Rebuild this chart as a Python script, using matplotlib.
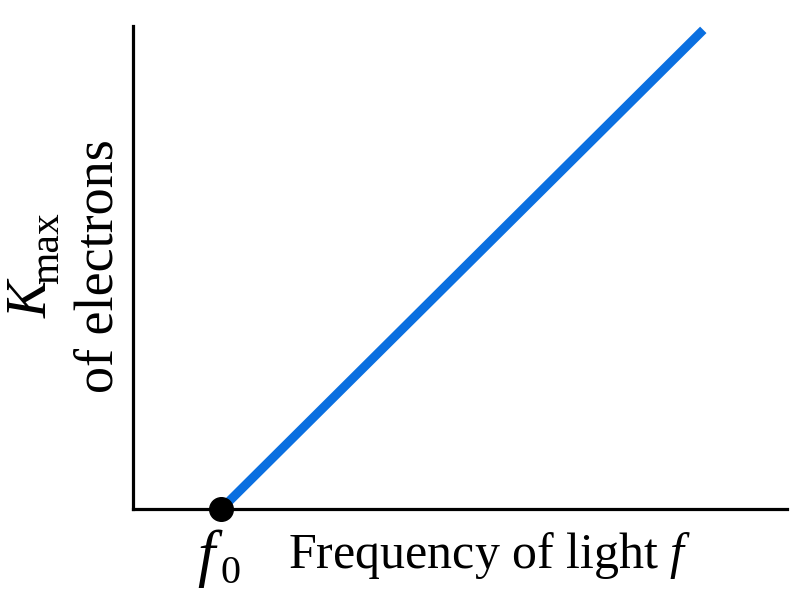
import matplotlib
matplotlib.use("Agg")
import matplotlib.pyplot as plt

plt.rcParams['font.family'] = ['Liberation Serif', 'DejaVu Serif']
plt.rcParams['mathtext.fontset'] = 'custom'
plt.rcParams['mathtext.rm'] = 'Liberation Serif'
plt.rcParams['mathtext.it'] = 'Liberation Serif:italic'

# data
f0 = 1.35
line_x = [1.35, 8.72]
line_y = [0.0, 9.92]
x_label = "Frequency of light $f$"
y_label_sym = "K"
y_label_sub = "max"
y_label_line2 = "of electrons"
f0_sym = "f"
f0_sub = "0"

W, H = 800, 600
fig = plt.figure(figsize=(8, 6), dpi=100)
ax = fig.add_axes([133/W, 91/H, (787-133)/W, (509-26)/H])
ax.set_xlim(0, 10)
ax.set_ylim(0, 10)
ax.plot(line_x, line_y, color='#0a6fe0', lw=6.5, solid_capstyle='butt', zorder=3)
ax.plot([f0], [0], 'o', color='black', ms=17, clip_on=False, zorder=4)

for s in ['top', 'right']:
    ax.spines[s].set_visible(False)
for s in ['left', 'bottom']:
    ax.spines[s].set_linewidth(2.3)
ax.set_xticks([])
ax.set_yticks([])

def P(x, y):
    return (x / W, 1 - y / H)

# x-axis labels
fig.text(*P(197, 574), f0_sym, fontsize=45, style='italic', ha='left', va='baseline')
fig.text(*P(221, 583), f0_sub, fontsize=29, ha='left', va='baseline')
fig.text(*P(288, 568), x_label, fontsize=36, ha='left', va='baseline')

# y-axis label (rotated)
kw = dict(rotation=90, rotation_mode='anchor', ha='left', va='baseline')
fig.text(*P(47, 318), y_label_sym, fontsize=40, style='italic', **kw)
fig.text(*P(58, 284), y_label_sub, fontsize=30, **kw)
fig.text(*P(112, 393), y_label_line2, fontsize=39, **kw)

fig.savefig('out.png', dpi=100)
